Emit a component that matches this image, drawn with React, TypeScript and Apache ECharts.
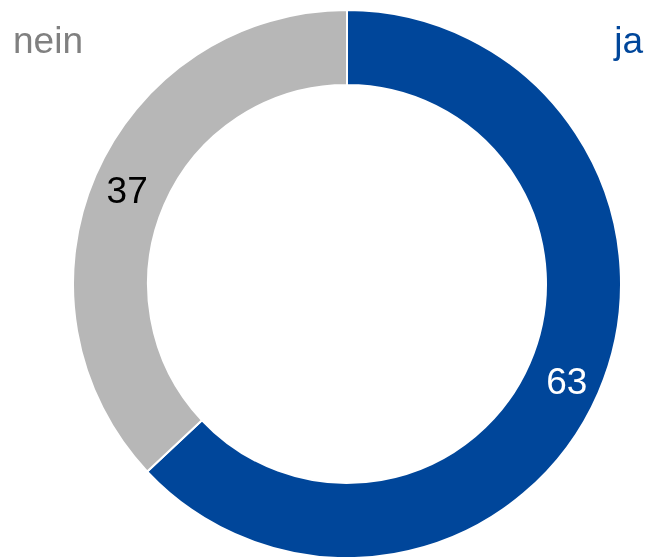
import React, { useEffect, useRef } from "react";
import * as echarts from "echarts";

const categories = ["ja", "nein"];
const values = [63, 37];
const colors = ["#00469A", "#B7B7B7"];
const labelColors = ["#ffffff", "#000000"];
const nameColors = ["#00469A", "#808080"];

export default function App() {
  const ref = useRef<HTMLDivElement>(null);
  useEffect(() => {
    const chart = echarts.init(ref.current!, null, { renderer: "svg" });
    const font = "Liberation Sans, Arial, sans-serif";
    chart.setOption({
      animation: false,
      title: [
        {
          text: categories[1],
          left: 13,
          top: 22,
          padding: 0,
          textStyle: { fontSize: 37, fontWeight: "normal", color: nameColors[1], fontFamily: font },
        },
        {
          text: categories[0],
          right: 3,
          top: 22,
          padding: 0,
          textStyle: { fontSize: 37, fontWeight: "normal", color: nameColors[0], fontFamily: font },
        },
      ],
      series: [
        {
          type: "pie",
          center: [347, 284],
          radius: [199, 274],
          startAngle: 90,
          clockwise: true,
          silent: true,
          itemStyle: { borderColor: "#ffffff", borderWidth: 2 },
          label: {
            show: true,
            position: "inside",
            fontSize: 37,
            fontFamily: font,
            formatter: "{c}",
            offset: [0, 2],
          },
          labelLine: { show: false },
          data: categories.map((c, i) => ({
            name: c,
            value: values[i],
            itemStyle: { color: colors[i] },
            label: { color: labelColors[i] },
          })),
        },
      ],
    });
    return () => chart.dispose();
  }, []);
  return (
    <div
      ref={ref}
      style={{ position: "fixed", left: 0, top: 0, width: 646, height: 557 }}
    />
  );
}
